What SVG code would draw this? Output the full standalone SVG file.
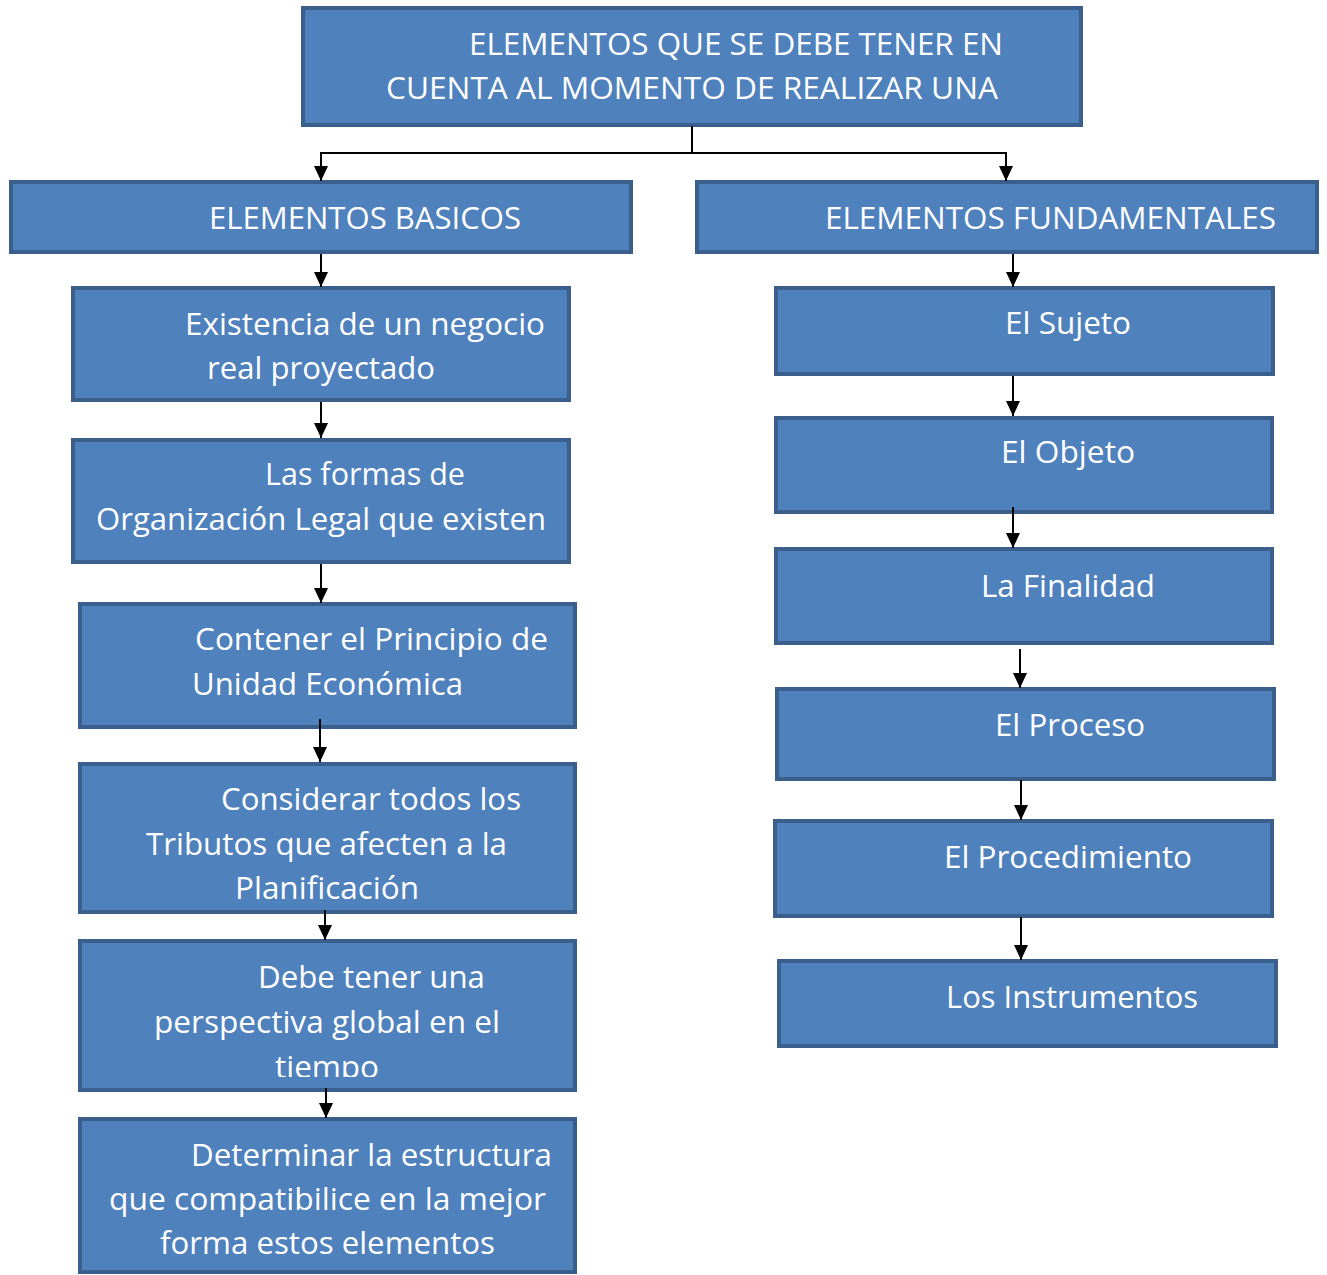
<svg xmlns="http://www.w3.org/2000/svg" width="1327" height="1275" viewBox="0 0 1327 1275">
<style>
.box{fill:#4F81BD;stroke:#3A5F8C;stroke-width:4}
.t{font-family:"Open Sans","Liberation Sans",sans-serif;font-size:31px;fill:#FFFFFF}
.c{fill:none;stroke:#000000;stroke-width:2}
</style>
<defs>
<marker id="ah" markerUnits="userSpaceOnUse" markerWidth="15" markerHeight="14" refX="15" refY="7" orient="auto">
<path d="M0,0 L15,7 L0,14 z" fill="#000000"/>
</marker>
<clipPath id="clipDebe"><rect x="80" y="941" width="495" height="136"/></clipPath>
</defs>
<rect width="1327" height="1275" fill="#FFFFFF"/>
<g id="nodes">
<g id="n-root">
<rect class="box" x="303" y="8" width="778" height="117"/>
<text class="t" x="469" y="55" textLength="534" lengthAdjust="spacingAndGlyphs">ELEMENTOS QUE SE DEBE TENER EN</text>
<text class="t" x="386" y="99" textLength="612" lengthAdjust="spacingAndGlyphs">CUENTA AL MOMENTO DE REALIZAR UNA</text>
</g>
<g id="n-basicos">
<rect class="box" x="11" y="182" width="620" height="70"/>
<text class="t" x="209" y="229" textLength="312" lengthAdjust="spacingAndGlyphs">ELEMENTOS BASICOS</text>
</g>
<g id="n-fundamentales">
<rect class="box" x="697" y="182" width="620" height="70"/>
<text class="t" x="825" y="229" textLength="451" lengthAdjust="spacingAndGlyphs">ELEMENTOS FUNDAMENTALES</text>
</g>
<g id="n-existencia">
<rect class="box" x="73" y="288" width="496" height="112"/>
<text class="t" x="185" y="335" textLength="360" lengthAdjust="spacingAndGlyphs">Existencia de un negocio</text>
<text class="t" x="207" y="379" textLength="228" lengthAdjust="spacingAndGlyphs">real proyectado</text>
</g>
<g id="n-formas">
<rect class="box" x="73" y="440" width="496" height="122"/>
<text class="t" x="265" y="485" textLength="200" lengthAdjust="spacingAndGlyphs">Las formas de</text>
<text class="t" x="96" y="530" textLength="450" lengthAdjust="spacingAndGlyphs">Organización Legal que existen</text>
</g>
<g id="n-contener">
<rect class="box" x="80" y="604" width="495" height="123"/>
<text class="t" x="195" y="650" textLength="353" lengthAdjust="spacingAndGlyphs">Contener el Principio de</text>
<text class="t" x="192" y="695" textLength="271" lengthAdjust="spacingAndGlyphs">Unidad Económica</text>
</g>
<g id="n-considerar">
<rect class="box" x="80" y="764" width="495" height="148"/>
<text class="t" x="221" y="810" textLength="300" lengthAdjust="spacingAndGlyphs">Considerar todos los</text>
<text class="t" x="146" y="855" textLength="361" lengthAdjust="spacingAndGlyphs">Tributos que afecten a la</text>
<text class="t" x="235" y="899" textLength="184" lengthAdjust="spacingAndGlyphs">Planificación</text>
</g>
<g id="n-debe">
<rect class="box" x="80" y="941" width="495" height="149"/>
<g clip-path="url(#clipDebe)">
<text class="t" x="258" y="988" textLength="227" lengthAdjust="spacingAndGlyphs">Debe tener una</text>
<text class="t" x="154" y="1033" textLength="346" lengthAdjust="spacingAndGlyphs">perspectiva global en el</text>
<text class="t" x="275" y="1078" textLength="104" lengthAdjust="spacingAndGlyphs">tiempo</text>
</g>
</g>
<g id="n-determinar">
<rect class="box" x="80" y="1119" width="495" height="153"/>
<text class="t" x="191" y="1166" textLength="361" lengthAdjust="spacingAndGlyphs">Determinar la estructura</text>
<text class="t" x="109" y="1210" textLength="437" lengthAdjust="spacingAndGlyphs">que compatibilice en la mejor</text>
<text class="t" x="160" y="1254" textLength="335" lengthAdjust="spacingAndGlyphs">forma estos elementos</text>
</g>
<g id="n-sujeto">
<rect class="box" x="776" y="288" width="497" height="86"/>
<text class="t" x="1005" y="334" textLength="126" lengthAdjust="spacingAndGlyphs">El Sujeto</text>
</g>
<g id="n-objeto">
<rect class="box" x="776" y="418" width="496" height="94"/>
<text class="t" x="1001" y="463" textLength="134" lengthAdjust="spacingAndGlyphs">El Objeto</text>
</g>
<g id="n-finalidad">
<rect class="box" x="776" y="549" width="496" height="94"/>
<text class="t" x="981" y="597" textLength="174" lengthAdjust="spacingAndGlyphs">La Finalidad</text>
</g>
<g id="n-proceso">
<rect class="box" x="777" y="689" width="497" height="90"/>
<text class="t" x="995" y="736" textLength="150" lengthAdjust="spacingAndGlyphs">El Proceso</text>
</g>
<g id="n-procedimiento">
<rect class="box" x="775" y="821" width="497" height="95"/>
<text class="t" x="944" y="868" textLength="248" lengthAdjust="spacingAndGlyphs">El Procedimiento</text>
</g>
<g id="n-instrumentos">
<rect class="box" x="779" y="961" width="497" height="85"/>
<text class="t" x="946" y="1008" textLength="252" lengthAdjust="spacingAndGlyphs">Los Instrumentos</text>
</g>
</g>
<g id="connectors">
<path class="c" d="M692,126 V153 H321"/>
<path class="c" d="M692,153 H1006"/>
<path class="c" d="M321,152 V181" marker-end="url(#ah)"/>
<path class="c" d="M1006,152 V181" marker-end="url(#ah)"/>
<path class="c" d="M321,254 V287" marker-end="url(#ah)"/>
<path class="c" d="M321,402 V438" marker-end="url(#ah)"/>
<path class="c" d="M321,564 V603" marker-end="url(#ah)"/>
<path class="c" d="M320,719 V762" marker-end="url(#ah)"/>
<path class="c" d="M325,910 V940" marker-end="url(#ah)"/>
<path class="c" d="M326,1088 V1118" marker-end="url(#ah)"/>
<path class="c" d="M1013,254 V287" marker-end="url(#ah)"/>
<path class="c" d="M1013,376 V416" marker-end="url(#ah)"/>
<path class="c" d="M1013,507 V548" marker-end="url(#ah)"/>
<path class="c" d="M1020,649 V688" marker-end="url(#ah)"/>
<path class="c" d="M1021,780 V820" marker-end="url(#ah)"/>
<path class="c" d="M1021,917 V960" marker-end="url(#ah)"/>
</g>
</svg>
